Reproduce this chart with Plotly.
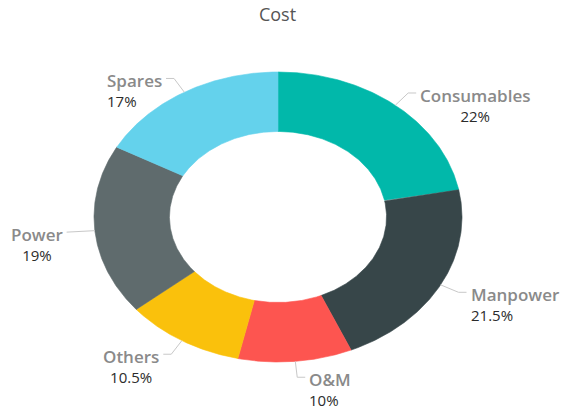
import numpy as np
import plotly.graph_objects as go

# Cost breakdown (share of total, %)
categories = ["Consumables", "Manpower", "O&M", "Others", "Power", "Spares"]
shares = [22, 21.5, 10, 10.5, 19, 17]
colors = ["#01B8AA", "#374649", "#FD5550", "#FAC10C", "#5F6B6D", "#64D2EC"]
label_align = ["center", "left", "left", "center", "center", "left"]

W, H = 567, 409
CX, CY = 278, 217          # ring centre (px)
RX, RY = 184, 145          # outer semi-axes (px)
HOLE = 0.59                # inner / outer ratio
LEADER_R = 1.11            # radial end of the leader line
LEADER_H = 8               # horizontal tail of the leader line (px)


def ring_point(theta, r):
    """Point on the elliptical ring, theta measured clockwise from 12 o'clock."""
    return CX + RX * r * np.sin(theta), CY - RY * r * np.cos(theta)


fig = go.Figure()
annotations = []
total = float(sum(shares))
start = 0.0
for name, val, col, al in zip(categories, shares, colors, label_align):
    t0 = 2 * np.pi * start / total
    t1 = 2 * np.pi * (start + val) / total
    start += val

    ts = np.linspace(t0, t1, 160)
    ox, oy = ring_point(ts, 1.0)
    ix, iy = ring_point(ts[::-1], HOLE)
    xs = np.concatenate([ox, ix, ox[:1]])
    ys = np.concatenate([oy, iy, oy[:1]])
    fig.add_trace(go.Scatter(
        x=xs, y=ys, mode="lines", fill="toself", fillcolor=col,
        line=dict(color=col, width=0.6), hoveron="fills",
        text=f"{name}: {val:g}%", hoverinfo="text", name=name,
    ))

    # leader line from the slice midpoint to its label
    mid = (t0 + t1) / 2
    side = 1 if np.sin(mid) >= 0 else -1
    x0, y0 = ring_point(mid, 1.0)
    x1, y1 = ring_point(mid, LEADER_R)
    x2 = x1 + side * LEADER_H
    fig.add_trace(go.Scatter(
        x=[x0, x1, x2], y=[y0, y1, y1], mode="lines",
        line=dict(color="#c8c8c8", width=1), hoverinfo="skip",
    ))

    annotations.append(dict(
        x=x2 + side * 3, y=y1 - 10, xref="x", yref="y",
        xanchor="left" if side > 0 else "right", yanchor="top",
        align=al, showarrow=False, borderpad=0,
        text=(f"<span style='color:#8a8a8a;font-weight:600;font-size:17px'>{name}</span>"
              f"<br><span style='color:#2b2b2b'>{val:g}%</span>"),
        font=dict(family="Open Sans, sans-serif", size=15, color="#2b2b2b"),
    ))

fig.update_layout(
    width=W, height=H,
    margin=dict(l=0, r=0, t=0, b=0),
    paper_bgcolor="white", plot_bgcolor="white",
    showlegend=False,
    title=dict(
        text="Cost", x=277.5 / W, xanchor="center",
        y=1 - 15 / H, yanchor="middle", yref="container",
        font=dict(family="Open Sans, sans-serif", size=18, color="#555555"),
    ),
    xaxis=dict(range=[0, W], visible=False, fixedrange=True),
    yaxis=dict(range=[H, 0], visible=False, fixedrange=True),
    annotations=annotations,
)

fig.write_html("out.html")
